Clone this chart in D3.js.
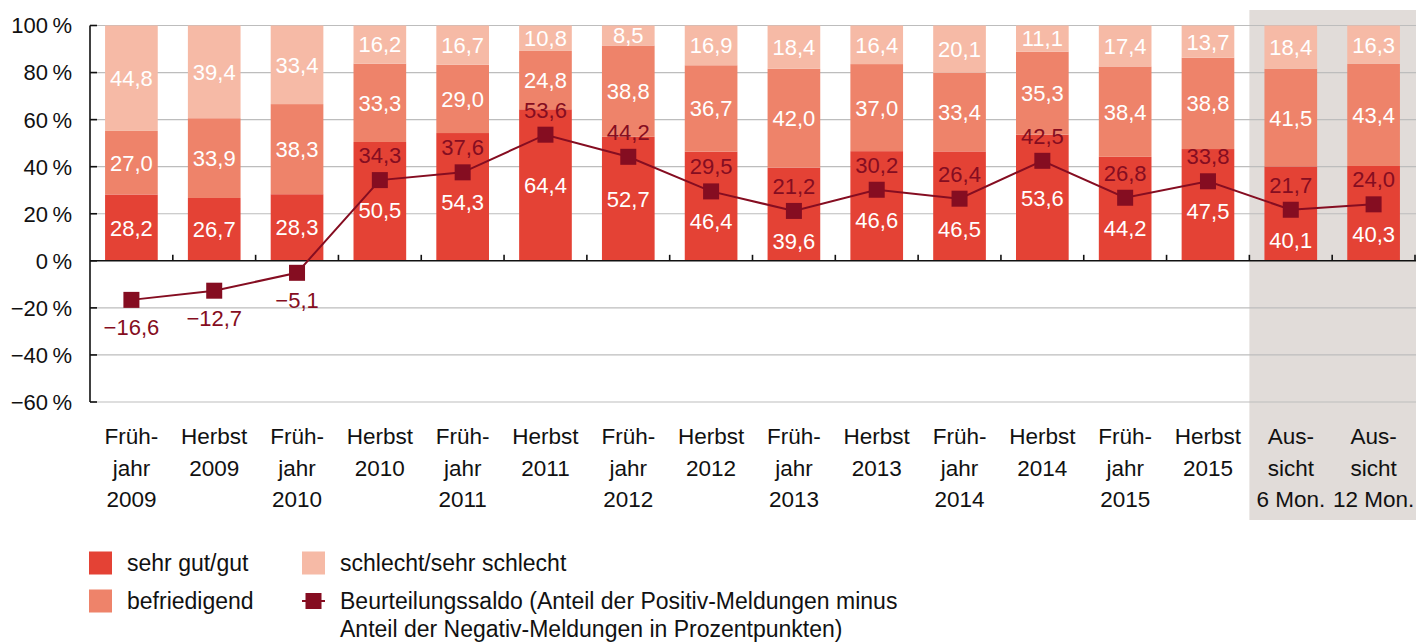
<!DOCTYPE html>
<html>
<head>
<meta charset="utf-8">
<script src="https://cdn.jsdelivr.net/npm/d3@7"></script>
<style>
  body { margin: 0; background: #fff; }
  svg { display: block; font-family: "Liberation Sans", Arial, sans-serif; }
</style>
</head>
<body>
<svg id="chart" width="1416" height="643"></svg>
<script>
// categories (multi-line x labels)
var categories = [
  ["Früh-", "jahr", "2009"], ["Herbst", "2009"], ["Früh-", "jahr", "2010"], ["Herbst", "2010"],
  ["Früh-", "jahr", "2011"], ["Herbst", "2011"], ["Früh-", "jahr", "2012"], ["Herbst", "2012"],
  ["Früh-", "jahr", "2013"], ["Herbst", "2013"], ["Früh-", "jahr", "2014"], ["Herbst", "2014"],
  ["Früh-", "jahr", "2015"], ["Herbst", "2015"], ["Aus-", "sicht", "6 Mon."], ["Aus-", "sicht", "12 Mon."]
];
var gut = [28.2, 26.7, 28.3, 50.5, 54.3, 64.4, 52.7, 46.4, 39.6, 46.6, 46.5, 53.6, 44.2, 47.5, 40.1, 40.3];
var befriedigend = [27.0, 33.9, 38.3, 33.3, 29.0, 24.8, 38.8, 36.7, 42.0, 37.0, 33.4, 35.3, 38.4, 38.8, 41.5, 43.4];
var schlecht = [44.8, 39.4, 33.4, 16.2, 16.7, 10.8, 8.5, 16.9, 18.4, 16.4, 20.1, 11.1, 17.4, 13.7, 18.4, 16.3];
var saldo = [-16.6, -12.7, -5.1, 34.3, 37.6, 53.6, 44.2, 29.5, 21.2, 30.2, 26.4, 42.5, 26.8, 33.8, 21.7, 24.0];
var yTicks = [-60, -40, -20, 0, 20, 40, 60, 80, 100];
var outlookCount = 2; // last two categories are the "Aussicht" (shaded)

var colors = { gut: "#E44235", bef: "#EE836A", schl: "#F6BAA6", saldo: "#850D21" };
var fmt = function(v) { return d3.format(".1f")(v).replace(".", ",").replace("-", "\u2212"); };

var svg = d3.select("#chart");
var keys = categories.map(function(d, i) { return i; });

var x = d3.scaleBand().domain(keys).range([90, 1415]).paddingInner(0.364).paddingOuter(0.182);
var y = d3.scaleLinear().domain([-60, 100]).range([402, 25.5]);

// shaded outlook area
var shadeX = x(keys.length - outlookCount) - x.step() * x.paddingInner() / 2;
svg.append("rect")
  .attr("x", shadeX).attr("y", 10)
  .attr("width", 1416 - shadeX).attr("height", 510)
  .attr("fill", "#E1DCD9");

// gridlines
svg.append("g").selectAll("line").data(yTicks.filter(function(t) { return t !== 0; }))
  .enter().append("line")
  .attr("x1", 90).attr("x2", 1416)
  .attr("y1", function(d) { return y(d); }).attr("y2", function(d) { return y(d); })
  .attr("stroke", "#BDBDBD").attr("stroke-width", 1.2);

// stacked bars
var stack = keys.map(function(i) {
  return [
    { k: "gut", y0: 0, y1: gut[i], v: gut[i] },
    { k: "bef", y0: gut[i], y1: gut[i] + befriedigend[i], v: befriedigend[i] },
    { k: "schl", y0: gut[i] + befriedigend[i], y1: 100, v: schlecht[i] }
  ].map(function(s) { s.i = i; return s; });
});
var segs = [].concat.apply([], stack);

svg.append("g").selectAll("rect").data(segs).enter().append("rect")
  .attr("x", function(d) { return x(d.i); })
  .attr("width", x.bandwidth())
  .attr("y", function(d) { return y(d.y1); })
  .attr("height", function(d) { return y(d.y0) - y(d.y1); })
  .attr("fill", function(d) { return colors[d.k]; });

// segment value labels (the lowest one dodges the saldo marker)
svg.append("g").selectAll("text").data(segs).enter().append("text")
  .attr("x", function(d) { return x(d.i) + x.bandwidth() / 2; })
  .attr("y", function(d) {
    var c = (y(d.y0) + y(d.y1)) / 2;
    if (d.k === "gut" && saldo[d.i] > 0) c = Math.max(c, y(saldo[d.i]) + 30);
    return c;
  })
  .attr("dy", "0.36em")
  .attr("text-anchor", "middle")
  .attr("fill", "#fff")
  .style("font-size", "22px")
  .text(function(d) { return fmt(d.v); });

// y axis
var yAxis = svg.append("g");
yAxis.append("line").attr("x1", 90).attr("x2", 90).attr("y1", y(100)).attr("y2", y(-60))
  .attr("stroke", "#111").attr("stroke-width", 1.6);
yAxis.selectAll("line.t").data(yTicks).enter().append("line")
  .attr("x1", 90).attr("x2", 97)
  .attr("y1", function(d) { return y(d); }).attr("y2", function(d) { return y(d); })
  .attr("stroke", "#111").attr("stroke-width", 1.6);
yAxis.selectAll("text").data(yTicks).enter().append("text")
  .attr("x", 72).attr("y", function(d) { return y(d); })
  .attr("dy", "0.36em").attr("text-anchor", "end")
  .attr("fill", "#111").style("font-size", "22px")
  .text(function(d) { return String(d).replace("-", "\u2212") + "\u2009%"; });

// x axis (zero line) with upward ticks between categories
var xAxis = svg.append("g");
xAxis.append("line").attr("x1", 90).attr("x2", 1416).attr("y1", y(0)).attr("y2", y(0))
  .attr("stroke", "#111").attr("stroke-width", 1.6);
xAxis.selectAll("line.t").data(keys).enter().append("line")
  .attr("x1", function(d) { return x(d) + x.bandwidth() + x.step() * x.paddingInner() / 2; })
  .attr("x2", function(d) { return x(d) + x.bandwidth() + x.step() * x.paddingInner() / 2; })
  .attr("y1", y(0)).attr("y2", y(0) - 6)
  .attr("stroke", "#111").attr("stroke-width", 1.6);

// category labels
var cl = svg.append("g").selectAll("text").data(keys).enter().append("text")
  .attr("text-anchor", "middle")
  .attr("fill", "#111").style("font-size", "22.5px")
  .attr("transform", function(d) { return "translate(" + (x(d) + x.bandwidth() / 2) + ",436)"; });
cl.selectAll("tspan").data(function(d) { return categories[d]; }).enter().append("tspan")
  .attr("x", 0).attr("y", function(d, j) { return j * 31.5; })
  .attr("dy", "0.36em")
  .text(function(d) { return d; });

// saldo line
var line = d3.line()
  .x(function(d, i) { return x(i) + x.bandwidth() / 2; })
  .y(function(d) { return y(d); });
svg.append("path").datum(saldo)
  .attr("d", line).attr("fill", "none")
  .attr("stroke", colors.saldo).attr("stroke-width", 2);
svg.append("g").selectAll("rect").data(saldo).enter().append("rect")
  .attr("x", function(d, i) { return x(i) + x.bandwidth() / 2 - 8; })
  .attr("y", function(d) { return y(d) - 8; })
  .attr("width", 16).attr("height", 16)
  .attr("fill", colors.saldo);
svg.append("g").selectAll("text").data(saldo).enter().append("text")
  .attr("x", function(d, i) { return x(i) + x.bandwidth() / 2; })
  .attr("y", function(d) { return y(d) + (d < 0 ? 27 : -25); })
  .attr("dy", "0.36em").attr("text-anchor", "middle")
  .attr("fill", colors.saldo).style("font-size", "22px")
  .text(function(d) { return fmt(d); });

// legend
var legend = svg.append("g").style("font-size", "23px").attr("fill", "#111");
var boxes = [
  { label: "sehr gut/gut", c: colors.gut, lx: 89, ly: 563 },
  { label: "befriedigend", c: colors.bef, lx: 89, ly: 601 },
  { label: "schlecht/sehr schlecht", c: colors.schl, lx: 302, ly: 563 }
];
boxes.forEach(function(b) {
  legend.append("rect").attr("x", b.lx).attr("y", b.ly - 11.5).attr("width", 23).attr("height", 23).attr("fill", b.c);
  legend.append("text").attr("x", b.lx + 38).attr("y", b.ly).attr("dy", "0.36em").text(b.label);
});
legend.append("line").attr("x1", 302).attr("x2", 325).attr("y1", 601).attr("y2", 601)
  .attr("stroke", colors.saldo).attr("stroke-width", 2);
legend.append("rect").attr("x", 305.5).attr("y", 593).attr("width", 16).attr("height", 16).attr("fill", colors.saldo);
legend.append("text").attr("x", 340).attr("y", 601).attr("dy", "0.36em")
  .text("Beurteilungssaldo (Anteil der Positiv-Meldungen minus");
legend.append("text").attr("x", 340).attr("y", 629).attr("dy", "0.36em")
  .text("Anteil der Negativ-Meldungen in Prozentpunkten)");
</script>
</body>
</html>
